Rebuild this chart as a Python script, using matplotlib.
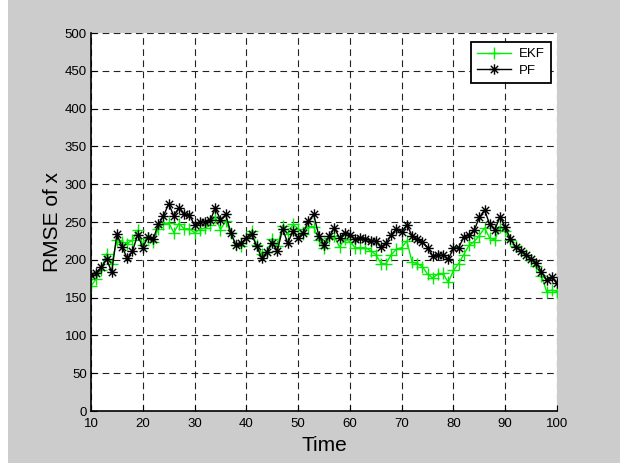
import matplotlib
matplotlib.use("Agg")
import matplotlib.pyplot as plt
from matplotlib.patches import Rectangle
from matplotlib.path import Path

plt.rcParams['font.family'] = ['Liberation Sans', 'DejaVu Sans']

time = list(range(10, 101))

pf = [180, 183, 190, 201, 184, 234, 217, 202, 211, 233,
      216, 230, 227, 247, 258, 274, 258, 269, 260, 259,
      246, 250, 250, 252, 268, 253, 260, 236, 219, 222,
      229, 234, 218, 202, 210, 222, 212, 241, 222, 238,
      229, 236, 251, 260, 232, 220, 231, 242, 229, 236,
      233, 227, 229, 228, 225, 225, 217, 222, 233, 241,
      237, 246, 232, 227, 224, 216, 205, 206, 206, 201,
      215, 216, 230, 233, 239, 256, 266, 247, 240, 257,
      243, 228, 217, 212, 207, 201, 196, 184, 173, 177,
      169]

ekf = [165, 175, 187, 208, 195, 226, 224, 221, 226, 239,
       220, 229, 224, 241, 248, 249, 236, 248, 241, 241,
       236, 240, 242, 246, 257, 240, 251, 235, 219, 218,
       229, 238, 219, 208, 210, 227, 218, 245, 234, 247,
       241, 234, 244, 244, 226, 215, 229, 231, 217, 227,
       224, 216, 216, 216, 212, 207, 195, 195, 207, 214,
       216, 225, 197, 195, 191, 181, 176, 181, 182, 170,
       186, 195, 207, 219, 224, 232, 242, 229, 226, 244,
       238, 226, 218, 212, 207, 200, 192, 179, 158, 160,
       158]

xticks = list(range(10, 101, 10))
yticks = list(range(0, 501, 50))

# MATLAB-like asterisk marker (plus + cross)
d = 0.7071
ast_verts = [(0, -1), (0, 1), (-1, 0), (1, 0), (-d, -d), (d, d), (-d, d), (d, -d)]
ast_codes = [Path.MOVETO, Path.LINETO] * 4
asterisk = Path(ast_verts, ast_codes)

fig = plt.figure(figsize=(6.29, 4.65), dpi=100, facecolor='white')
fig.patches.append(Rectangle((8/629, 2/465), 612/629, 463/465,
                             transform=fig.transFigure, facecolor='#cccccc',
                             edgecolor='none', zorder=-10))
ax = fig.add_axes([91/629, 1 - 411/465, 466/629, 378/465])
ax.set_facecolor('white')

ax.plot(time, ekf, color='#00ee00', marker='+', markersize=8, linewidth=1,
        markeredgewidth=1, label='EKF')
ax.plot(time, pf, color='black', marker=asterisk, markersize=7.5, linewidth=1,
        markeredgewidth=1, markerfacecolor='none', label='PF')

ax.set_xlim(10, 100)
ax.set_ylim(0, 500)
ax.set_xticks(xticks)
ax.set_yticks(yticks)
ax.tick_params(direction='in', labelsize=9.5, length=4, width=0.8)
ax.tick_params(axis='y', pad=3)
ax.tick_params(axis='x', pad=5)
for s in ['top', 'right']:
    ax.spines[s].set_visible(False)
for s in ['left', 'bottom']:
    ax.spines[s].set_linewidth(1.2)
ax.grid(True, color='#222222', linestyle=(0, (6, 4)), linewidth=0.8)
ax.set_axisbelow(True)

ax.set_xlabel('Time', fontsize=15, labelpad=4)
ax.set_ylabel('RMSE of x', fontsize=15, labelpad=2)

leg = ax.legend(loc='upper right', bbox_to_anchor=(551/629, 1 - 42/465),
                bbox_transform=fig.transFigure, borderaxespad=0,
                fancybox=False, framealpha=1, edgecolor='black', fontsize=9.5,
                handlelength=2.6, handletextpad=0.6, borderpad=0.45,
                labelspacing=0.35)
leg.get_frame().set_linewidth(1.3)

fig.savefig('out.png', dpi=100, facecolor=fig.get_facecolor())
